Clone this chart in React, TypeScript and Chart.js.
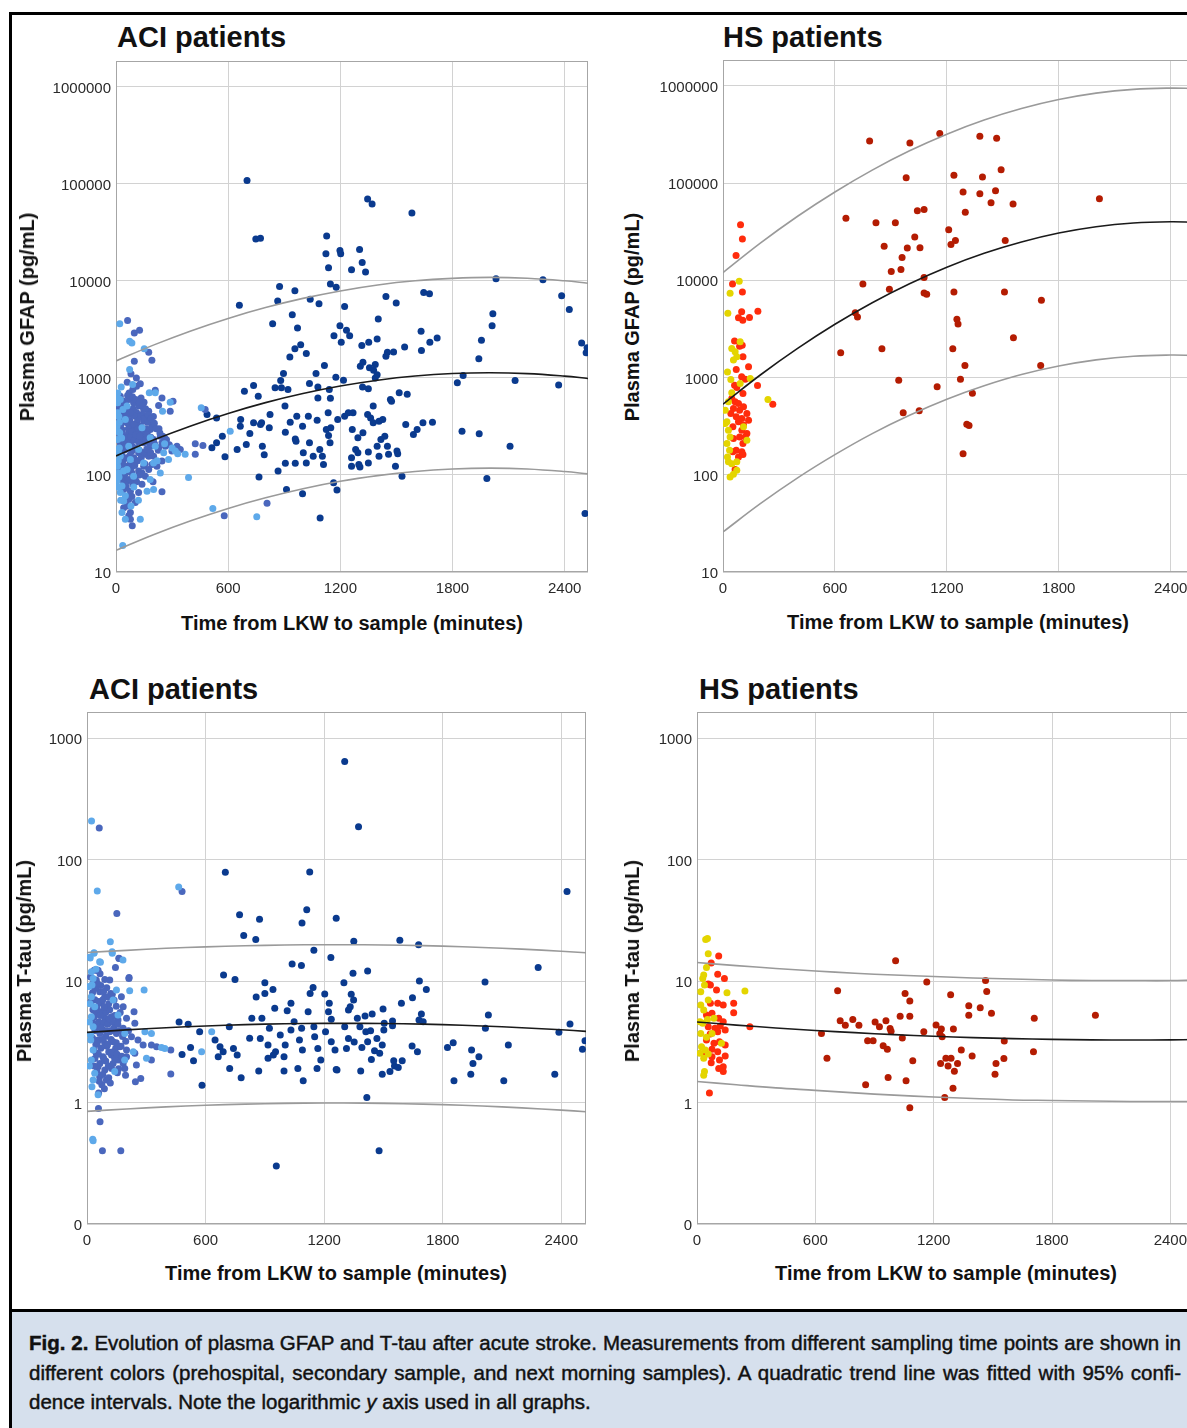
import React, { useEffect, useRef } from 'react';
import { Chart, registerables } from 'chart.js';

Chart.register(...registerables);

type P = [number, number];

// ---------- tick labels ----------
const xTicks = [0, 600, 1200, 1800, 2400];
const gfapTicks = [10, 100, 1000, 10000, 100000, 1000000];
const tauTicks = [0.1, 1, 10, 100, 1000];

// ---------- fitted curves ----------
const curveX = [0, 200, 400, 600, 800, 1000, 1200, 1400, 1600, 1800, 2000, 2200, 2400, 2525];
const gfapAciMean = [157, 229, 320, 430, 556, 690, 824, 946, 1045, 1109, 1130, 1107, 1042, 986];
const gfapAciUpper = [1493, 2175, 3047, 4100, 5300, 6590, 7870, 9060, 10000, 10590, 10840, 10620, 10000, 9440];
const gfapAciLower = [16.7, 24.2, 33.7, 45.2, 58.1, 72.1, 86.1, 98.4, 108.6, 115.1, 117.5, 115.3, 108.6, 102.6];
const gfapHsMean = [532, 1061, 1992, 3524, 5870, 9200, 13610, 18920, 24720, 30550, 35480, 38800, 40000, 39500];
const gfapHsUpper = [11970, 24050, 45500, 80900, 135800, 214200, 317700, 443600, 583000, 721400, 839500, 918800, 946000, 937600];
const gfapHsLower = [25.8, 50.4, 92.9, 161, 265, 409, 598, 822, 1072, 1312, 1517, 1656, 1702, 1687];
const tauAciMean = [3.78, 3.96, 4.13, 4.27, 4.38, 4.45, 4.48, 4.48, 4.45, 4.38, 4.27, 4.13, 3.97, 3.85];
const tauAciUpper = [17.2, 17.9, 18.6, 19.1, 19.5, 19.8, 19.9, 19.9, 19.7, 19.4, 18.9, 18.3, 17.6, 17.1];
const tauAciLower = [0.845, 0.885, 0.921, 0.949, 0.97, 0.984, 0.991, 0.989, 0.978, 0.961, 0.935, 0.904, 0.866, 0.84];
const tauHsMean = [4.6, 4.34, 4.11, 3.92, 3.76, 3.62, 3.51, 3.42, 3.36, 3.31, 3.28, 3.27, 3.28, 3.3];
const tauHsUpper = [14.2, 13.4, 12.7, 12.1, 11.6, 11.2, 10.9, 10.6, 10.4, 10.2, 10.1, 10.1, 10.1, 10.2];
const tauHsLower = [1.49, 1.4, 1.32, 1.26, 1.2, 1.15, 1.11, 1.08, 1.05, 1.04, 1.03, 1.02, 1.02, 1.02];

// ---------- ACI GFAP ----------
const aciGfapPre: P[] = [
  [20, 3620], [73, 2380], [85, 2290], [151, 1990], [73, 1220], [89, 853], [28, 807], [178, 701], [210, 701], [290, 562],
  [249, 454], [456, 491], [611, 282], [388, 94], [518, 45], [753, 37], [36, 18.8], [130, 35], [50, 35], [41, 54],
  [23, 66], [166, 68], [201, 71], [148, 133], [201, 133], [281, 144], [317, 176], [370, 163], [183, 241], [210, 198],
  [9, 553], [9, 437], [5, 318], [9, 232], [14, 169], [9, 123], [14, 105], [5, 86.5], [32, 77], [32, 41],
  [23, 156], [20, 272], [37, 472], [23, 598], [59, 512], [50, 372], [68, 198], [77, 144], [59, 114], [50, 61],
  [80, 48], [139, 306], [121, 183], [94, 97], [183, 90], [237, 105], [255, 169], [10, 700], [15, 400], [12, 280],
  [18, 190], [12, 140], [16, 95], [10, 75], [25, 55], [8, 620], [30, 240], [40, 110], [18, 350], [260, 210],
  [300, 190], [330, 165], [220, 140], [120, 55], [95, 75],
];
const aciGfapSec: P[] = [
  [62, 3890], [98, 2900], [126, 3090], [175, 1840], [192, 1520], [98, 1480], [109, 1000], [210, 747], [134, 622], [246, 622],
  [77, 622], [50, 553], [305, 576], [228, 519], [290, 454], [477, 472], [166, 387], [192, 318], [237, 251], [326, 198],
  [344, 183], [424, 209], [465, 201], [424, 163], [246, 214], [299, 176], [246, 139], [246, 67], [198, 85], [175, 114],
  [139, 105], [77, 41], [59, 48], [68, 38], [87, 30], [50, 56], [77, 61], [579, 38], [808, 51],
  [23, 647], [41, 576], [68, 598], [94, 553], [121, 512], [148, 472], [41, 437], [77, 420], [103, 403], [139, 420],
  [175, 454], [59, 344], [85, 318], [112, 344], [148, 358], [32, 294], [68, 272], [103, 282], [139, 261], [166, 272],
  [41, 232], [77, 223], [112, 232], [148, 214], [183, 198], [50, 183], [85, 176], [121, 169], [157, 163], [201, 156],
  [41, 144], [77, 133], [112, 139], [148, 123], [192, 128], [50, 114], [85, 105], [121, 110], [157, 97], [59, 86],
  [103, 90], [139, 80], [41, 71], [77, 68], [121, 66], [68, 56], [103, 52], [41, 46], [77, 35], [32, 553],
  [59, 472], [94, 454], [130, 318], [183, 294], [201, 232], [228, 191], [264, 198], [175, 156], [219, 123], [23, 198],
  [23, 123], [32, 97], [23, 372], [15, 500], [30, 520], [45, 490], [60, 460], [90, 480], [110, 440], [130, 400],
  [150, 380], [170, 350], [35, 400], [55, 380], [75, 360], [95, 330], [115, 300], [135, 280], [160, 300], [20, 260],
  [40, 250], [60, 240], [80, 250], [100, 230], [120, 220], [140, 240], [160, 230], [180, 210], [25, 200], [45, 210],
  [65, 190], [85, 200], [105, 190], [125, 180], [145, 170], [165, 185], [185, 170], [30, 160], [55, 150], [75, 160],
  [95, 150], [115, 140], [135, 150], [155, 130], [35, 130], [60, 120], [80, 115], [100, 125], [125, 100], [45, 95],
  [70, 90], [90, 80], [110, 85], [55, 75], [85, 60], [40, 180], [20, 300], [70, 700], [90, 760], [110, 820],
  [60, 900], [80, 1100], [130, 870], [150, 560], [200, 400], [230, 300], [260, 240],
  [12, 450], [18, 380], [26, 330], [34, 270], [22, 220], [28, 175], [36, 150], [44, 125], [52, 105], [20, 110],
  [28, 90], [48, 80], [62, 660], [88, 640], [105, 600], [125, 560], [142, 520], [158, 480], [172, 420], [188, 380],
  [205, 340], [215, 300], [235, 270], [250, 250], [270, 230], [285, 205], [66, 300], [86, 280], [106, 260], [126, 250],
  [146, 290], [166, 260], [186, 245], [206, 210], [226, 180], [116, 380], [96, 410], [76, 440], [56, 420], [36, 460],
];
const aciGfapNext: P[] = [
  [701, 108000], [748, 27000], [773, 27500], [1127, 29000], [1123, 19000], [1198, 20500], [1202, 19000], [1303, 21000], [1137, 13600], [1317, 15400],
  [1260, 13000], [1335, 12300], [1346, 69500], [1370, 62000], [1583, 50000], [1147, 9250], [1178, 8600], [875, 8750], [957, 7900], [1039, 6460],
  [1444, 6900], [1646, 7600], [1677, 7350], [2033, 10500], [2284, 10250], [2384, 7000],
  [660, 5600], [865, 6200], [1086, 5800], [1223, 5450], [1499, 5900], [2425, 5050], [838, 3620], [943, 4470], [971, 3270], [1198, 3450],
  [1403, 4040], [2016, 4590], [2012, 3450], [1955, 2440], [1941, 1570], [1632, 3020], [1679, 2330], [1718, 2580], [1634, 1910], [1544, 2080],
  [1452, 1840], [1444, 1670], [1485, 1850], [1315, 2150], [1352, 2330], [1397, 2520], [1250, 2720], [1233, 3090], [1166, 2720], [1205, 2330],
  [1018, 1780], [957, 1990], [988, 2200], [930, 1640], [1115, 1340], [1070, 1110], [1176, 1015], [1217, 946], [1307, 1320], [1321, 1450],
  [1356, 1270], [1387, 1370], [1378, 1200], [1397, 1080], [1387, 1000], [896, 1110], [881, 940], [736, 833], [687, 730], [761, 646],
  [851, 789], [885, 789], [920, 758], [1035, 874], [1080, 807], [1141, 758], [1147, 618], [1080, 622], [1319, 807], [1350, 771],
  [1515, 701], [1558, 679], [1468, 598], [1474, 576], [1376, 512], [1826, 889], [1857, 1057], [2135, 940], [2368, 847], [2491, 2290],
  [2515, 1810], [2520, 2040], [904, 512], [824, 420], [906, 276], [779, 344], [736, 344], [773, 331], [667, 372], [716, 267],
  [665, 318], [538, 387], [487, 420], [569, 251], [513, 191], [538, 214], [583, 154], [648, 183], [697, 206], [783, 198],
  [793, 161], [765, 95], [820, 306], [932, 350], [967, 403], [998, 318], [959, 235], [963, 223], [1029, 403], [1076, 367],
  [1035, 214], [1002, 169], [1090, 183], [1110, 128], [1149, 306], [1125, 294], [1186, 372], [1137, 255], [1145, 214], [1135, 437],
  [1223, 403], [1243, 437], [1268, 437], [1264, 294], [1294, 241], [1321, 272], [1282, 183], [1294, 169], [1350, 172], [1260, 150],
  [1260, 123], [1305, 121], [1299, 128], [1350, 133], [1346, 420], [1362, 387], [1376, 344], [1407, 358], [1427, 372], [1438, 251],
  [1417, 232], [1452, 198], [1397, 198], [1407, 156], [1503, 176], [1507, 165], [1495, 123], [1458, 163], [1530, 97], [1550, 331],
  [1591, 261], [1611, 294], [1642, 344], [1693, 350], [1851, 282], [1943, 266], [1984, 92], [2108, 198], [2509, 40], [867, 110],
  [912, 71], [998, 64], [906, 132], [959, 132], [1018, 133], [1055, 156], [1104, 156], [1164, 83], [1182, 70], [1092, 36],
];

// ---------- HS GFAP ----------
const hsGfapPre: P[] = [
  [87, 9750], [38, 7350], [26, 4570], [47, 1990], [65, 1840], [92, 2330], [74, 1630], [56, 1510], [24, 1140], [42, 954],
  [146, 977], [92, 867], [241, 593], [47, 695], [29, 562], [21, 350], [12, 336], [29, 287], [38, 245], [21, 209],
  [35, 179], [24, 152], [29, 136], [47, 130], [74, 136], [38, 95], [56, 101], [74, 111], [110, 311], [128, 227], [12, 461],
];
const hsGfapSec: P[] = [
  [94, 37200], [104, 26500], [70, 18000], [51, 9140], [104, 7570], [100, 4740], [83, 4110], [106, 3890], [142, 4150], [187, 4790],
  [62, 2370], [103, 2150], [89, 2100], [107, 1630], [71, 1210], [137, 1290], [100, 1016], [119, 961], [62, 833], [74, 789],
  [185, 829], [107, 684], [267, 531], [47, 608], [65, 562], [83, 540], [56, 480], [89, 461], [110, 499], [42, 426],
  [71, 394], [101, 379], [128, 426], [83, 350], [110, 324], [137, 364], [53, 311], [101, 287], [128, 265], [89, 245],
  [119, 245], [56, 236], [107, 209], [71, 179], [101, 172], [53, 172], [83, 152], [107, 162], [65, 113],
];
const hsGfapNext: P[] = [
  [786, 270000], [1002, 258000], [1162, 322000], [1377, 302000], [1467, 289000], [982, 113500], [1238, 120000], [1391, 115000], [1491, 137000], [1287, 80800],
  [1377, 77600], [1461, 83400], [1437, 62800], [1555, 60800], [2018, 69000], [1299, 49900], [1042, 51900], [1078, 53500], [659, 43300], [820, 39000],
  [924, 39000], [1210, 33100], [1028, 27800], [988, 21400], [1056, 21600], [864, 22400], [1246, 25700], [1222, 23300], [1513, 25700], [960, 17100],
  [902, 12300], [954, 12900], [1078, 10650], [750, 9170], [892, 8070], [1078, 7410], [1092, 7180], [1238, 7590], [1509, 7590], [1707, 6220],
  [709, 4630], [721, 4180], [1254, 3980], [1260, 3550], [1557, 2560], [631, 1800], [852, 1970], [1232, 1970], [1297, 1330], [1703, 1330],
  [942, 939], [1273, 961], [1148, 802], [1337, 690], [966, 433], [1052, 454], [1307, 331], [1319, 321], [1287, 164],
];

// ---------- ACI T-tau ----------
const aciTauPre: P[] = [
  [23, 208], [52, 55.2], [464, 59.6], [118, 21.1], [128, 16.9], [35, 16.9], [16, 15.5], [182, 14.9], [68, 14.3], [127, 17.4],
  [36, 17.1], [14, 15.7], [64, 14.4], [22, 11.9], [31, 10.5], [25, 9.27], [149, 8.44], [216, 8.32], [289, 8.44], [22, 7.43],
  [39, 6.15], [22, 5.08], [31, 4.2], [19, 3.27], [31, 2.7], [22, 2.24], [39, 1.74], [31, 1.53], [132, 6.98], [157, 5.25],
  [191, 3.7], [234, 2.62], [191, 2.24], [140, 1.8], [293, 3.82], [326, 3.7], [377, 2.84], [394, 2.79], [301, 2.31], [56, 1.16],
  [31, 0.484], [29, 0.498], [631, 3.82], [580, 2.62], [10, 9.0], [15, 6.5], [12, 4.6], [18, 3.6], [12, 2.0], [25, 1.35], [45, 12.5],
];
const aciTauSec: P[] = [
  [62, 182], [481, 54.5], [151, 36], [163, 15.3], [144, 12.9], [52, 12.2], [66, 11.5], [213, 10.7], [161, 15.4], [56, 12.3],
  [90, 10.3], [115, 10.2], [212, 10.5], [64, 8.17], [90, 7.43], [120, 7.91], [73, 6.55], [103, 6.15], [137, 6.98], [174, 7.43],
  [183, 6.15], [238, 5.6], [56, 5.42], [90, 4.93], [124, 5.08], [157, 4.78], [200, 4.93], [242, 4.49], [47, 4.2], [81, 3.95],
  [115, 3.83], [149, 3.7], [183, 4.08], [225, 3.48], [258, 3.27], [56, 3.27], [90, 3.07], [132, 3.17], [166, 2.88], [200, 2.7],
  [284, 2.97], [326, 2.97], [352, 2.88], [424, 2.7], [47, 2.54], [81, 2.38], [124, 2.46], [157, 2.24], [183, 2.1], [242, 2.54],
  [326, 2.24], [56, 1.97], [90, 1.85], [124, 1.91], [154, 1.76], [191, 1.91], [250, 2.04], [200, 2.38], [64, 1.63], [98, 1.53],
  [245, 1.48], [272, 1.58], [195, 1.68], [59, 1.2], [424, 1.72], [36, 12.3], [47, 10.2], [39, 8.7], [58, 0.895], [66, 0.695],
  [78, 0.4], [171, 0.4], [30, 9.5], [45, 8.8], [70, 9.2], [100, 8.8], [40, 7.0], [60, 6.8], [80, 7.0], [110, 6.5],
  [30, 5.8], [50, 6.0], [70, 5.6], [95, 5.5], [115, 5.8], [140, 5.2], [35, 5.0], [60, 4.6], [85, 4.5], [105, 4.4],
  [130, 4.6], [40, 3.9], [65, 3.7], [95, 3.5], [120, 3.9], [165, 3.9], [45, 3.0], [70, 2.8], [100, 2.9], [110, 2.6],
  [145, 2.8], [40, 2.3], [65, 2.1], [95, 2.2], [140, 2.3], [50, 1.8], [80, 1.7], [110, 1.6], [75, 1.4],
  [18, 10.8], [28, 8.0], [52, 9.6], [84, 8.2], [106, 7.4], [128, 7.8], [148, 6.2], [168, 5.5], [20, 6.8], [44, 5.5],
  [66, 5.2], [88, 6.1], [112, 4.9], [136, 4.1], [156, 4.4], [180, 3.5], [210, 3.9], [24, 4.7], [48, 4.4], [72, 4.1],
  [98, 3.9], [122, 3.3], [148, 3.1], [172, 2.9], [196, 3.2], [28, 3.4], [52, 3.1], [78, 3.3], [104, 3.0], [128, 2.6],
  [152, 2.5], [176, 2.4], [34, 2.7], [58, 2.5], [84, 2.3], [108, 2.0], [132, 2.1], [160, 1.9], [36, 2.0], [62, 1.5],
  [88, 1.3], [118, 1.45],
];
const aciTauNext: P[] = [
  [1304, 641], [1374, 186], [700, 78.8], [1127, 79], [2429, 54.5], [772, 35.2], [873, 32.3], [1088, 30.1], [1112, 38.7], [1261, 32.9],
  [793, 23.7], [854, 22], [1350, 21.3], [1583, 21.7], [1678, 19.9], [1148, 17.9], [1234, 15.6], [1038, 13.8], [1085, 13.4], [1346, 11.6],
  [1420, 12.1], [2283, 12.9], [691, 11.2], [749, 10.3], [900, 9.7], [941, 8.5], [856, 7.4], [900, 7.9], [1300, 9.7], [1337, 7.8],
  [1682, 10], [1717, 8.5], [2014, 9.8], [1647, 7.3], [1591, 6.55], [1498, 5.9], [1546, 4.7], [1443, 5.35], [1692, 5.35], [2031, 5.25],
  [2016, 4.08], [2444, 4.43], [2388, 3.78], [2520, 3.23], [2507, 2.74], [2132, 2.97], [1853, 3.1], [1824, 2.84], [1946, 2.7], [1953, 2.1],
  [1983, 2.38], [1942, 1.71], [1857, 1.51], [2109, 1.51], [2367, 1.71], [1416, 1.1], [1478, 0.4], [958, 0.3], [582, 1.39], [722, 1.91],
  [780, 1.6], [869, 1.82], [997, 1.82], [1067, 1.91], [1164, 1.91], [1265, 1.85], [1385, 1.82], [1439, 2.26], [1494, 1.71], [1533, 1.8],
  [1556, 2.0], [1094, 1.51], [664, 2.38], [539, 2.21], [481, 2.49], [524, 2.84], [570, 3.83], [466, 4.6], [512, 4.4], [720, 4.2],
  [648, 3.27], [673, 2.88], [689, 2.62], [741, 2.79], [760, 2.46], [823, 3.38], [877, 3.37], [834, 4.93], [885, 4.93], [916, 2.97],
  [954, 2.62], [997, 2.38], [916, 2.31], [943, 2.46], [950, 5.96], [923, 4.08], [978, 3.6], [1003, 2.97], [1032, 3.95], [1013, 5.7],
  [1032, 6.55], [1048, 4.62], [1075, 3.27], [1090, 2.7], [1086, 4.08], [1129, 7.9], [1144, 8.87], [1119, 5.6], [1148, 4.2], [1152, 3.48],
  [1168, 2.79], [1183, 2.24], [1203, 7.82], [1226, 6.55], [1222, 5.6], [1236, 4.84], [1207, 3.83], [1236, 3.17], [1255, 2.7], [1261, 1.87],
  [1304, 4.2], [1323, 3.37], [1313, 2.79], [1332, 6.15], [1323, 5.77], [1349, 6.98], [1368, 4.93], [1381, 4.2], [1411, 3.83], [1420, 3.17],
  [1391, 2.84], [1352, 3.15], [1407, 5.15], [1435, 3.9], [1467, 3.37], [1455, 2.67], [1481, 2.54], [1494, 2.97], [1504, 4.49], [1502, 3.95],
  [1546, 4.29], [1595, 2.21], [1575, 1.94], [1552, 2.21], [1645, 2.92], [1672, 2.62], [1680, 4.78], [1701, 4.62],
];

// ---------- HS T-tau ----------
const hsTauPre: P[] = [
  [44, 22], [53, 22.4], [57, 16.8], [48, 12.9], [34, 11.2], [29, 10.5], [38, 9.27], [19, 8.17], [152, 8.02], [243, 8.28],
  [19, 6.34], [34, 5.77], [57, 6.98], [15, 4.62], [29, 4.49], [53, 4.83], [86, 4.93], [19, 3.7], [48, 3.44], [76, 3.7],
  [23, 2.88], [42, 2.7], [15, 2.54], [34, 2.31], [57, 2.51], [38, 1.8], [34, 1.68], [124, 3.07],
];
const hsTauSec: P[] = [
  [110, 16.1], [72, 14.1], [105, 11.4], [139, 10.5], [57, 9.45], [68, 9.27], [99, 8.43], [68, 6.55], [105, 6.55], [133, 6.34],
  [186, 6.55], [186, 5.48], [48, 5.25], [76, 5.42], [110, 4.93], [133, 4.62], [57, 4.2], [91, 4.08], [118, 4.26], [105, 3.83],
  [67, 3.67], [143, 3.95], [268, 4.2], [48, 3.27], [86, 3.07], [114, 3.17], [143, 2.97], [76, 2.74], [105, 2.62], [46, 2.51],
  [76, 2.38], [114, 2.24], [143, 2.41], [72, 2.13], [133, 1.97], [110, 1.91], [133, 1.8], [63, 1.2],
];
const hsTauNext: P[] = [
  [2020, 5.22], [1710, 4.93], [1706, 2.62], [1463, 10.1], [1469, 8.22], [1165, 9.8], [1007, 14.7], [713, 8.32], [1055, 7.91], [1079, 6.84],
  [1286, 7.71], [1378, 6.27], [1378, 5.22], [1436, 6.04], [1493, 5.42], [1030, 5.12], [1079, 5.12], [726, 4.72], [752, 4.32], [790, 4.83],
  [821, 4.32], [903, 4.6], [925, 4.2], [958, 4.72], [979, 4.06], [984, 3.86], [1041, 3.4], [1150, 3.83], [1212, 4.35], [1239, 4.03],
  [1231, 3.7], [1243, 3.48], [1300, 4.03], [631, 3.7], [865, 3.23], [893, 3.23], [944, 2.94], [965, 2.74], [1340, 2.7], [1395, 2.41],
  [1558, 3.21], [1556, 2.3], [659, 2.31], [1094, 2.21], [1235, 2.1], [1262, 2.31], [1288, 2.31], [1273, 2.0], [1321, 2.1], [1305, 1.81],
  [1516, 2.1], [1511, 1.71], [969, 1.61], [1060, 1.51], [855, 1.4], [1298, 1.31], [1256, 1.1], [1079, 0.906],
];

// ---------- colours ----------
const C_ACI_PRE = '#5ea9ea';
const C_ACI_SEC = '#4a67bd';
const C_ACI_NEXT = '#0a3a8e';
const C_HS_PRE = '#e4d500';
const C_HS_SEC = '#ff2c0c';
const C_HS_NEXT = '#b41c02';
const FONT = "'Liberation Sans', Arial, Helvetica, sans-serif";
const YW = 80; // y axis band width
const PT = 5; // top padding

interface PanelSpec {
  left: number; top: number; right: number; bottom: number;
  yMin: number; yMax: number; yTicks: number[];
  points: { data: P[]; color: string }[];
  mean: number[]; upper: number[]; lower: number[];
}

const framePlugin = {
  id: 'frame',
  beforeDatasetsDraw(chart: any) {
    const { ctx, chartArea } = chart;
    ctx.save();
    ctx.strokeStyle = '#a6a6a6';
    ctx.lineWidth = 1;
    ctx.strokeRect(chartArea.left + 0.5, chartArea.top + 0.5, chartArea.right - chartArea.left - 1, chartArea.bottom - chartArea.top - 1);
    ctx.restore();
  },
};

function Panel({ spec }: { spec: PanelSpec }) {
  const ref = useRef<HTMLCanvasElement>(null);
  const W = spec.right - spec.left + YW + 5;
  const H = spec.bottom - spec.top + PT + 30;
  useEffect(() => {
    const canvas = ref.current!;
    const line = (vals: number[], color: string) => ({
      type: 'line' as const,
      data: curveX.map((x, i) => ({ x, y: vals[i] })),
      borderColor: color,
      borderWidth: 1.6,
      pointRadius: 0,
      tension: 0.4,
      fill: false,
      order: 0,
    });
    const datasets: any[] = [
      line(spec.mean, '#1a1a1a'),
      line(spec.upper, '#9a9a9a'),
      line(spec.lower, '#9a9a9a'),
      ...spec.points.map((s, i) => ({
        type: 'scatter' as const,
        data: s.data.map(([x, y]) => ({ x, y })),
        backgroundColor: s.color,
        borderWidth: 0,
        pointRadius: 3.5,
        order: 10 - i,
      })),
    ];
    const chart = new Chart(canvas, {
      type: 'scatter',
      data: { datasets },
      options: {
        animation: false,
        responsive: false,
        devicePixelRatio: 1,
        events: [],
        layout: { padding: { top: PT, right: 5, left: 0, bottom: 0 } },
        plugins: { legend: { display: false }, tooltip: { enabled: false }, title: { display: false } },
        scales: {
          x: {
            type: 'linear',
            min: 0,
            max: 2525,
            afterFit: (s: any) => { s.height = 30; s.paddingLeft = 0; s.paddingRight = 0; },
            afterBuildTicks: (s: any) => { s.ticks = xTicks.map((v) => ({ value: v })); },
            ticks: { padding: 8, color: '#2a2a2a', font: { family: FONT, size: 15 }, callback: (v: any) => String(v), maxRotation: 0 },
            grid: { color: '#d2d2d2', lineWidth: 1, drawTicks: false },
            border: { display: false },
          },
          y: {
            type: 'logarithmic',
            min: spec.yMin,
            max: spec.yMax,
            afterFit: (s: any) => { s.width = YW; s.paddingTop = 0; s.paddingBottom = 0; },
            afterBuildTicks: (s: any) => { s.ticks = spec.yTicks.map((v) => ({ value: v })); },
            ticks: { padding: 5, labelOffset: 2, color: '#2a2a2a', font: { family: FONT, size: 15 }, callback: (v: any) => (v === 0.1 ? '0' : String(v)) },
            grid: { color: '#d2d2d2', lineWidth: 1, drawTicks: false },
            border: { display: false },
          },
        },
      },
      plugins: [framePlugin],
    } as any);
    return () => chart.destroy();
  }, []);
  return (
    <canvas
      ref={ref}
      width={W}
      height={H}
      style={{ position: 'absolute', left: spec.left - YW, top: spec.top - PT, width: W, height: H }}
    />
  );
}

const panels: PanelSpec[] = [
  {
    left: 116, top: 61, right: 588, bottom: 572, yMin: 10, yMax: 1840000, yTicks: gfapTicks,
    points: [{ data: aciGfapNext, color: C_ACI_NEXT }, { data: aciGfapSec, color: C_ACI_SEC }, { data: aciGfapPre, color: C_ACI_PRE }],
    mean: gfapAciMean, upper: gfapAciUpper, lower: gfapAciLower,
  },
  {
    left: 723, top: 60, right: 1194, bottom: 572, yMin: 10, yMax: 1840000, yTicks: gfapTicks,
    points: [{ data: hsGfapNext, color: C_HS_NEXT }, { data: hsGfapSec, color: C_HS_SEC }, { data: hsGfapPre, color: C_HS_PRE }],
    mean: gfapHsMean, upper: gfapHsUpper, lower: gfapHsLower,
  },
  {
    left: 87, top: 712, right: 586, bottom: 1224, yMin: 0.1, yMax: 1640, yTicks: tauTicks,
    points: [{ data: aciTauNext, color: C_ACI_NEXT }, { data: aciTauSec, color: C_ACI_SEC }, { data: aciTauPre, color: C_ACI_PRE }],
    mean: tauAciMean, upper: tauAciUpper, lower: tauAciLower,
  },
  {
    left: 697, top: 712, right: 1195, bottom: 1224, yMin: 0.1, yMax: 1640, yTicks: tauTicks,
    points: [{ data: hsTauNext, color: C_HS_NEXT }, { data: hsTauSec, color: C_HS_SEC }, { data: hsTauPre, color: C_HS_PRE }],
    mean: tauHsMean, upper: tauHsUpper, lower: tauHsLower,
  },
];

const titles = [
  { text: 'ACI patients', left: 117, top: 23 },
  { text: 'HS patients', left: 723, top: 23 },
  { text: 'ACI patients', left: 89, top: 675 },
  { text: 'HS patients', left: 699, top: 675 },
];
const xTitles = [
  { cx: 352, cy: 623 }, { cx: 958, cy: 622 }, { cx: 336, cy: 1273 }, { cx: 946, cy: 1273 },
];
const yTitles = [
  { text: 'Plasma GFAP (pg/mL)', cx: 27, cy: 317 },
  { text: 'Plasma GFAP (pg/mL)', cx: 632, cy: 317 },
  { text: 'Plasma T-tau (pg/mL)', cx: 24, cy: 961 },
  { text: 'Plasma T-tau (pg/mL)', cx: 632, cy: 961 },
];

export default function App() {
  const bold = { fontFamily: FONT, fontWeight: 700, color: '#111', whiteSpace: 'nowrap' as const, lineHeight: 1 };
  const capLine = { lineHeight: '29.5px', height: 29.5, whiteSpace: 'nowrap' as const };
  return (
    <div style={{ position: 'absolute', left: 0, top: 0, width: 1187, height: 1428, overflow: 'hidden', background: '#fff' }}>
      {panels.map((p, i) => <Panel key={i} spec={p} />)}
      {titles.map((t, i) => (
        <div key={'t' + i} style={{ ...bold, position: 'absolute', left: t.left, top: t.top, fontSize: 29 }}>{t.text}</div>
      ))}
      {xTitles.map((t, i) => (
        <div key={'x' + i} style={{ ...bold, position: 'absolute', left: t.cx, top: t.cy, fontSize: 20, transform: 'translate(-50%, -50%)' }}>
          Time from LKW to sample (minutes)
        </div>
      ))}
      {yTitles.map((t, i) => (
        <div key={'y' + i} style={{ ...bold, position: 'absolute', left: t.cx, top: t.cy, fontSize: 20, transform: 'translate(-50%, -50%) rotate(-90deg)' }}>
          {t.text}
        </div>
      ))}
      <div style={{ position: 'absolute', left: 9, top: 12, width: 1178, height: 3, background: '#000' }} />
      <div style={{ position: 'absolute', left: 9, top: 12, width: 3, height: 1416, background: '#000' }} />
      <div style={{ position: 'absolute', left: 12, top: 1309, width: 1175, height: 3, background: '#000' }} />
      <div style={{ position: 'absolute', left: 12, top: 1312, width: 1175, height: 116, background: '#d6e0ed' }} />
      <div style={{ position: 'absolute', left: 29, top: 1328, width: 1152, fontFamily: FONT, fontSize: 20.5, color: '#111', WebkitTextStroke: '0.45px #111' }}>
        <div style={{ ...capLine, textAlign: 'justify', textAlignLast: 'justify' as any }}>
          <b>Fig. 2.</b> Evolution of plasma GFAP and T-tau after acute stroke. Measurements from different sampling time points are shown in
        </div>
        <div style={{ ...capLine, textAlign: 'justify', textAlignLast: 'justify' as any }}>
          different colors (prehospital, secondary sample, and next morning samples). A quadratic trend line was fitted with 95% confi-
        </div>
        <div style={capLine}>
          dence intervals. Note the logarithmic <i>y</i> axis used in all graphs.
        </div>
      </div>
    </div>
  );
}
